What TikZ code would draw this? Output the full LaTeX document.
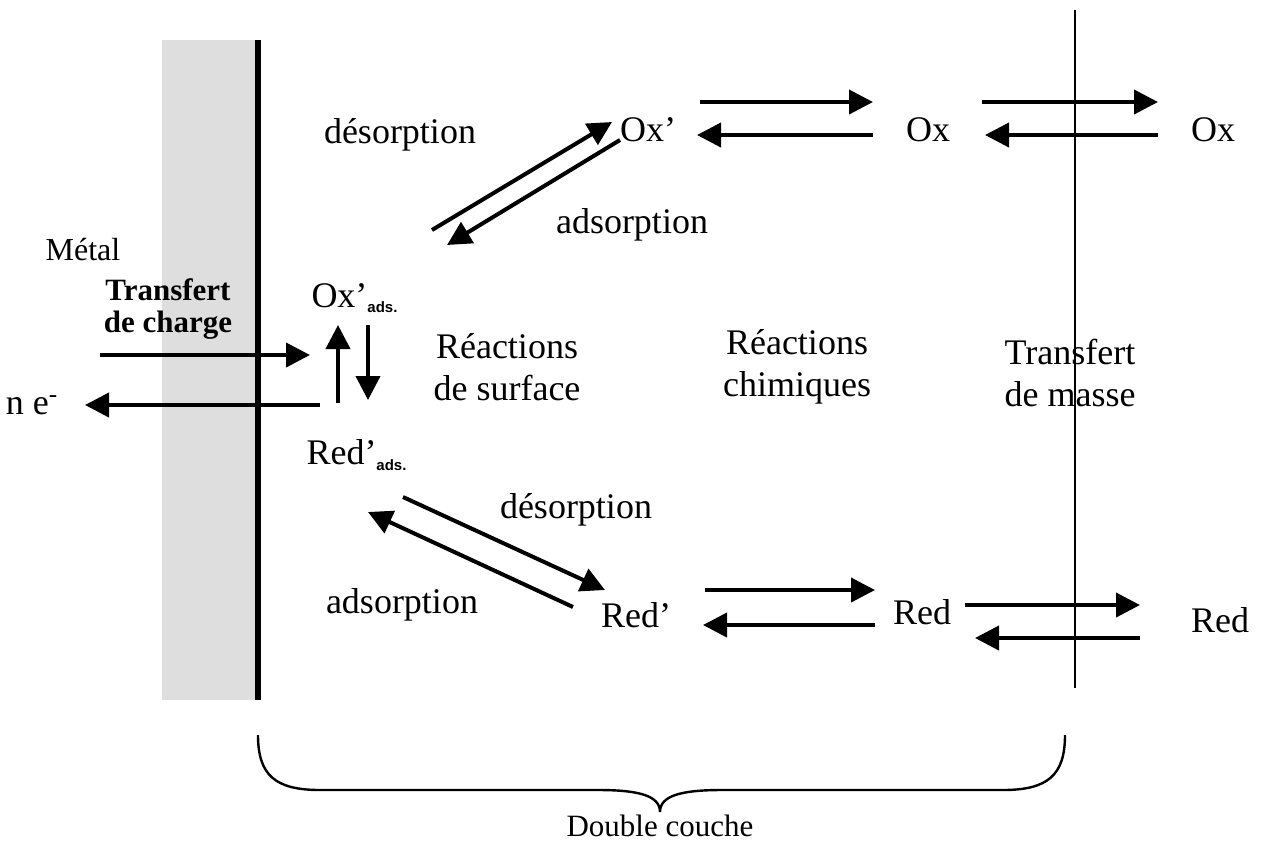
\documentclass[tikz,border=0pt]{standalone}
\usepackage{fontspec}
\setmainfont{Liberation Serif}
\setsansfont{Liberation Sans}
\usepackage{tikz}
\usetikzlibrary{arrows.meta,calc}

\newcommand{\ads}{\textsubscript{\fontsize{7.5}{7.5}\selectfont\sffamily\bfseries ads.}}

\begin{document}
\begin{tikzpicture}[x=0.5pt,y=-0.5pt,
  every node/.style={font=\fontsize{18}{21}\selectfont,inner sep=0pt,align=center},
  fleche/.style={line width=2pt,-{Triangle[length=12pt,width=12pt]}}]

\useasboundingbox (0,0) rectangle (1264,843);

% Metal and interface
\fill[black!13] (162,40) rectangle (256,700);
\draw[line width=3pt] (258,40)--(258,700);
\draw[line width=0.6pt] (1075,10)--(1075,688);

% Labels on the left
\node[font=\fontsize{16}{19}\selectfont] (metal) at (83,250) {Métal};
\node[font=\fontsize{15.5}{16}\selectfont\bfseries] (charge) at (168,309) {Transfert\\de charge};
\node (ne) at (32,405) {n e\textsuperscript{-}};

% Adsorbed species
\node (oxads) at (355,298) {Ox’\ads};
\node (redads) at (357,455) {Red’\ads};

% Zones
\node (surface) at (507,367) {Réactions\\de surface};
\node (chimie) at (797,367) {Réactions\\chimiques};
\node (masse) at (1070,373) {Transfert\\de masse};

% Ox side
\node (desorpA) at (400,135) {désorption};
\node (adsorpA) at (632,225) {adsorption};
\node (oxp) at (648,130) {Ox’};
\node (oxm) at (928,130) {Ox};
\node (oxb) at (1213,130) {Ox};

% Red side
\node (desorpB) at (576,510) {désorption};
\node (adsorpB) at (402,605) {adsorption};
\node (redp) at (636,615) {Red’};
\node (redm) at (922,612) {Red};
\node (redb) at (1220,620) {Red};

% Charge transfer
\coordinate (entree) at (100,355);
\draw[fleche] (entree) -- ($(oxads)+(-45,57)$);
\draw[fleche] ($(oxads)+(-35,107)$) -- ($(ne)+(53,0)$);
\draw[fleche] ($(redads)+(-19,-52)$) -- ($(oxads)+(-17,27)$);
\draw[fleche] ($(oxads)+(13,27)$) -- ($(redads)+(11,-55)$);

% Desorption / adsorption
\draw[fleche] ($(oxads)+(77,-68)$) -- ($(oxp)+(-36,-8)$);
\draw[fleche] ($(oxp)+(-28,10)$) -- ($(oxads)+(92,-53)$);
\draw[fleche] ($(redads)+(46,42)$) -- ($(redp)+(-31,-25)$);
\draw[fleche] ($(redp)+(-63,-8)$) -- ($(redads)+(11,57)$);

% Chemical reactions and mass transfer
\draw[fleche] ($(oxp)+(52,-28)$) -- ($(oxm)+(-55,-28)$);
\draw[fleche] ($(oxm)+(-55,5)$) -- ($(oxp)+(49,5)$);
\draw[fleche] ($(oxm)+(54,-28)$) -- ($(oxb)+(-55,-28)$);
\draw[fleche] ($(oxb)+(-55,5)$) -- ($(oxm)+(57,5)$);
\draw[fleche] ($(redp)+(69,-25)$) -- ($(redm)+(-47,-22)$);
\draw[fleche] ($(redm)+(-47,13)$) -- ($(redp)+(67,10)$);
\draw[fleche] ($(redm)+(43,-7)$) -- ($(redb)+(-80,-15)$);
\draw[fleche] ($(redb)+(-80,18)$) -- ($(redm)+(53,26)$);

% Brace
\draw[line width=1.2pt] (258,735) .. controls (258,775) and (275,790) .. (320,790)
  -- (598,790) .. controls (640,790) and (660,796) .. (660,812)
  .. controls (660,796) and (680,790) .. (722,790) -- (1003,790)
  .. controls (1048,790) and (1065,775) .. (1065,735);
\node[font=\fontsize{15.5}{18}\selectfont] (couche) at (660,826) {Double couche};

\end{tikzpicture}
\end{document}
